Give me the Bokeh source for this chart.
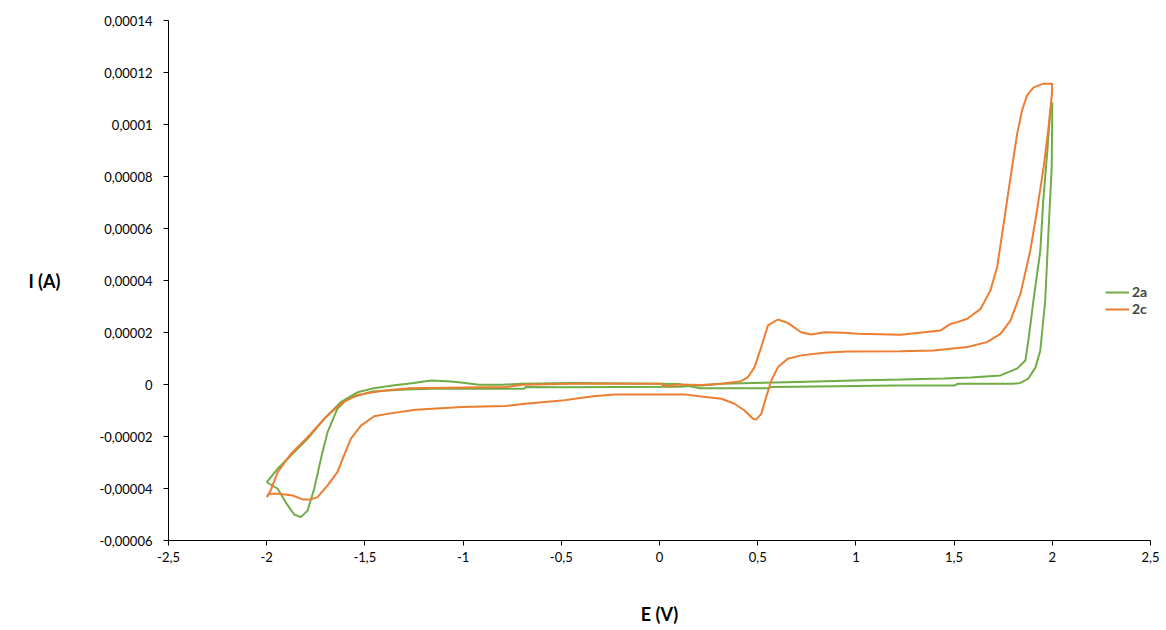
from bokeh.plotting import figure
from bokeh.models import (Range1d, FixedTicker, CustomJSTickFormatter,
                          Legend, LegendItem)
from bokeh.embed import file_html
from bokeh.resources import INLINE

# ---------------- data (E in V, I in A) ----------------
E_2a = [-2.0, -1.944, -1.877, -1.792, -1.707, -1.623, -1.538, -1.453, -1.386, -1.36,
        -1.25, -1.20, -1.16, -1.06, -1.00, -0.92, -0.80, -0.70, -0.45, 0.0, 0.10,
        0.20, 0.55, 0.57, 0.80, 1.20, 1.50, 1.52, 1.70, 1.80, 1.838, 1.878, 1.914,
        1.939, 1.964, 1.980, 1.997, 2.0,
        1.990, 1.975, 1.954, 1.939, 1.904, 1.878, 1.863, 1.822, 1.736, 1.584, 1.447,
        1.228, 0.99, 0.645, 0.315, 0.213, 0.10, -0.50, -0.68, -0.69, -1.157, -1.29,
        -1.386, -1.462, -1.504, -1.589, -1.640, -1.690, -1.724, -1.758, -1.792,
        -1.826, -1.86, -1.893, -1.944, -2.0]
I_2a = [-37.6e-6, -32.4e-6, -27.3e-6, -20.9e-6, -13.2e-6, -6.8e-6, -3.0e-6, -1.4e-6, -0.65e-6, -0.4e-6,
        0.6e-6, 1.15e-6, 1.5e-6, 1.15e-6, 0.65e-6, -0.1e-6, -0.1e-6, 0.3e-6, 0.6e-6, 0.3e-6, 0.2e-6,
        -1.4e-6, -1.4e-6, -1.0e-6, -0.8e-6, -0.4e-6, -0.4e-6, 0.3e-6, 0.3e-6, 0.3e-6, 0.6e-6, 2.3e-6, 6.5e-6,
        13.1e-6, 32.3e-6, 58.1e-6, 83.5e-6, 108.5e-6,
        105.4e-6, 90.0e-6, 70.8e-6, 51.5e-6, 32.3e-6, 16.9e-6, 9.2e-6, 6.2e-6, 3.5e-6, 2.7e-6, 2.3e-6,
        1.9e-6, 1.5e-6, 0.9e-6, 0.25e-6, -0.4e-6, -0.9e-6, -1.1e-6, -1.0e-6, -1.65e-6, -1.65e-6, -1.9e-6,
        -2.3e-6, -2.7e-6, -3.6e-6, -5.5e-6, -9.3e-6, -18.3e-6, -28.6e-6, -40.1e-6, -48.5e-6,
        -51.0e-6, -50.0e-6, -46.5e-6, -40.1e-6, -37.6e-6]

E_2c = [-2.0, -1.98, -1.944, -1.877, -1.792, -1.707, -1.623, -1.538, -1.453, -1.386,
        -1.276, -0.785, -0.70, -0.447, 0.01, 0.02, 0.075, 0.08, 0.213, 0.315, 0.416,
        0.45, 0.484, 0.518, 0.552, 0.603, 0.653, 0.721, 0.772, 0.839, 0.941, 1.009,
        1.228, 1.431, 1.482, 1.516, 1.567, 1.635, 1.685, 1.719, 1.745, 1.770, 1.795,
        1.821, 1.846, 1.871, 1.905, 1.956, 2.0,
        1.998, 1.981, 1.956, 1.922, 1.888, 1.838, 1.787, 1.736, 1.668, 1.567, 1.396,
        1.228, 0.958, 0.839, 0.721, 0.653, 0.603, 0.569, 0.543, 0.518, 0.492, 0.476,
        0.433, 0.382, 0.315, 0.213, 0.128, -0.227, -0.337, -0.413, -0.497, -0.684,
        -0.785, -1.005, -1.242, -1.386, -1.453, -1.52, -1.572, -1.606, -1.64, -1.69,
        -1.741, -1.775, -1.817, -1.868, -1.936, -1.986, -2.0]
I_2c = [-43.3e-6, -40.8e-6, -33.7e-6, -26.7e-6, -20.3e-6, -13.2e-6, -7.4e-6, -4.0e-6, -2.9e-6, -2.2e-6,
        -1.4e-6, -1.0e-6, -0.1e-6, 0.25e-6, 0.25e-6, -0.5e-6, -0.5e-6, 0.0, -0.2e-6, 0.25e-6, 1.3e-6,
        2.8e-6, 6.7e-6, 14.4e-6, 22.7e-6, 25.0e-6, 23.7e-6, 20.1e-6, 19.2e-6, 20.1e-6, 19.9e-6, 19.5e-6,
        19.1e-6, 20.8e-6, 23.3e-6, 24.0e-6, 25.3e-6, 29.1e-6, 36.2e-6, 45.1e-6, 58.0e-6, 70.8e-6, 83.6e-6,
        96.4e-6, 105.4e-6, 111.2e-6, 114.3e-6, 115.7e-6, 115.7e-6,
        111.8e-6, 99.0e-6, 83.6e-6, 66.9e-6, 51.5e-6, 34.9e-6, 24.6e-6, 19.5e-6, 16.3e-6, 14.4e-6, 13.1e-6,
        12.8e-6, 12.7e-6, 12.2e-6, 11.2e-6, 9.9e-6, 6.7e-6, 1.5e-6, -4.9e-6, -11.3e-6, -13.5e-6, -13.2e-6,
        -10.0e-6, -7.4e-6, -5.5e-6, -4.6e-6, -3.8e-6, -3.8e-6, -4.5e-6, -5.3e-6, -6.2e-6, -7.4e-6,
        -8.3e-6, -8.7e-6, -9.7e-6, -11.3e-6, -12.2e-6, -15.8e-6, -20.9e-6, -27.3e-6, -33.7e-6, -38.8e-6,
        -43.3e-6, -44.2e-6, -44.2e-6, -42.7e-6, -42.0e-6, -42.0e-6, -43.3e-6]

series_names = ["2a", "2c"]
x_ticks = [-2.5, -2.0, -1.5, -1.0, -0.5, 0.0, 0.5, 1.0, 1.5, 2.0, 2.5]
y_ticks = [-0.00006, -0.00004, -0.00002, 0.0, 0.00002, 0.00004, 0.00006,
           0.00008, 0.0001, 0.00012, 0.00014]
x_title = "E (V)"
y_title = "I (A)"

GREEN = "#70AD47"
ORANGE = "#ED7D31"
FONT = "Lato"

p = figure(width=1166, height=630, output_backend="svg", toolbar_location=None,
           x_range=Range1d(-2.5, 2.5), y_range=Range1d(-0.00006, 0.00014),
           min_border_left=168, min_border_right=16, min_border_top=20,
           min_border_bottom=90)
p.outline_line_color = None
p.xgrid.visible = False
p.ygrid.visible = False
p.background_fill_color = "white"
p.border_fill_color = "white"

r_a = p.line(E_2a, I_2a, line_color=GREEN, line_width=2)
r_c = p.line(E_2c, I_2c, line_color=ORANGE, line_width=2)

for ax in (p.xaxis[0], p.yaxis[0]):
    ax.axis_line_color = "black"
    ax.major_tick_line_color = "black"
    ax.major_tick_out = 5
    ax.major_tick_in = 0
    ax.minor_tick_line_color = None
    ax.major_label_text_font = FONT
    ax.major_label_text_font_size = "13px"
    ax.major_label_text_color = "black"
    ax.axis_label_text_font = FONT
    ax.axis_label_text_font_style = "bold"
    ax.axis_label_text_font_size = "18px"
    ax.axis_label_text_color = "black"

p.xaxis.ticker = FixedTicker(ticks=x_ticks)
p.yaxis.ticker = FixedTicker(ticks=y_ticks)
p.xaxis.formatter = CustomJSTickFormatter(code="""
    return tick.toString().replace('.', ',');
""")
p.yaxis.formatter = CustomJSTickFormatter(code="""
    if (Math.abs(tick) < 1e-12) return '0';
    let s = tick.toFixed(5).replace(/0+$/, '').replace(/\\.$/, '');
    return s.replace('.', ',');
""")
p.xaxis.major_label_standoff = 6
p.yaxis.major_label_standoff = 11

p.xaxis.axis_label = x_title
p.xaxis.axis_label_standoff = 38

p.yaxis.axis_label = y_title
p.yaxis.axis_label_orientation = "horizontal"
p.yaxis.axis_label_standoff = 36

legend = Legend(items=[LegendItem(label=series_names[0], renderers=[r_a]),
                       LegendItem(label=series_names[1], renderers=[r_c])],
                location=(937, 223), orientation="vertical")
legend.background_fill_alpha = 0
legend.border_line_color = None
legend.padding = 0
legend.margin = 0
legend.spacing = 0
legend.glyph_width = 24
legend.glyph_height = 14
legend.label_height = 14
legend.label_standoff = 3
legend.label_text_font = FONT
legend.label_text_font_style = "bold"
legend.label_text_font_size = "14px"
p.add_layout(legend)

open("out.html", "w").write(file_html(p, INLINE))
